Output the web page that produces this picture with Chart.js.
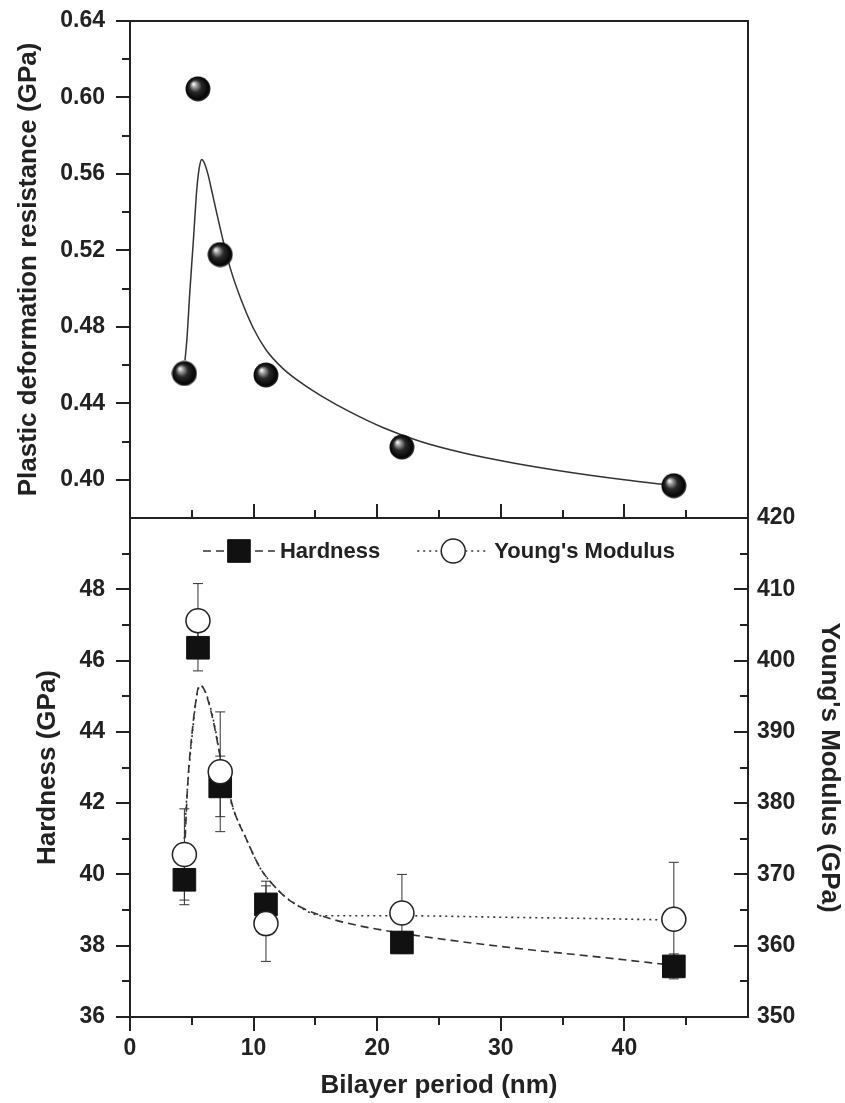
<!DOCTYPE html>
<html>
<head>
<meta charset="utf-8">
<title>Bilayer period vs. plastic deformation resistance, hardness and modulus</title>
<script src="https://cdn.jsdelivr.net/npm/chart.js@4.4.1/dist/chart.umd.min.js"></script>
<style>
  html, body { margin: 0; padding: 0; background: #fff; }
  #wrap { position: relative; width: 845px; height: 1103px; }
  #wrap canvas { position: absolute; left: 0; top: 0; }
</style>
</head>
<body>
<div id="wrap">
  <canvas id="topChart" width="845" height="1103"></canvas>
  <canvas id="bottomChart" width="845" height="1103"></canvas>
</div>
<script>
// ---- data ----
const periods = [4.4, 5.5, 7.3, 11, 22, 44];            // bilayer period, nm

// top panel: plastic deformation resistance (GPa)
const plasticRes = [0.4556, 0.6045, 0.5178, 0.4548, 0.4171, 0.3969];
const plasticFitX = [4.45, 4.6, 4.85, 5.13, 5.4, 5.6, 5.8, 6.0, 6.3, 6.6, 7.0, 7.5, 8.1, 9.0, 10.0, 11.0, 12.4, 14.0, 15.5, 17.8, 20.5, 23.5, 27, 31, 35, 40, 44];
const plasticFitY = [0.4626, 0.4731, 0.4992, 0.5254, 0.5516, 0.5630, 0.5676, 0.5660, 0.5600, 0.5516, 0.5400, 0.5260, 0.5110, 0.4940, 0.4790, 0.4680, 0.4580, 0.4500, 0.4438, 0.4355, 0.4272, 0.4200, 0.4140, 0.4088, 0.4045, 0.4000, 0.3970];

// bottom panel: hardness and Young's modulus (GPa)
const hardness = [39.85, 46.36, 42.47, 39.16, 38.09, 37.42];
const hardnessErr = [0.7, 0.65, 0.85, 0.65, 0.3, 0.35];
const modulus = [372.8, 405.6, 384.4, 363.1, 364.6, 363.7];
const modulusErr = [6.4, 5.2, 8.4, 5.3, 5.4, 8.0];

const hardnessFitX = [4.4, 4.5, 4.7, 5.0, 5.3, 5.6, 5.9, 6.3, 6.8, 7.3, 7.8, 8.4, 9.4, 10.5, 11.6, 13, 15.6, 18, 21.8, 26, 32, 38, 44];
const hardnessFitY = [40.3, 41.3, 42.7, 43.9, 44.8, 45.3, 45.25, 44.9, 44.2, 43.3, 42.6, 41.8, 41.0, 40.2, 39.7, 39.25, 38.83, 38.6, 38.36, 38.15, 37.9, 37.68, 37.45];
const modulusFitX = [4.4, 4.6, 5.0, 5.4, 5.7, 6.0, 6.5, 7.0, 7.3, 8.2, 9.4, 10.5, 11.6, 13, 15.6, 18, 22, 30, 38, 44];
const modulusFitY = [375, 381, 389, 395, 396.5, 396, 393.5, 389.5, 386.5, 380, 375, 371, 368.5, 366.3, 364.2, 364.2, 364.2, 364.0, 363.8, 363.6];

// tick labels
const xTickLabels = [0, 10, 20, 30, 40];
const plasticTicks = [0.40, 0.44, 0.48, 0.52, 0.56, 0.60, 0.64];
const hardnessTicks = [36, 38, 40, 42, 44, 46, 48];
const modulusTicks = [350, 360, 370, 380, 390, 400, 410, 420];

// ---- look ----
const INK = '#222';
const FONT = '"Liberation Sans", Arial, Helvetica, sans-serif';
const tickFont = { family: FONT, size: 23, weight: 'bold' };
const titleFont = { family: FONT, size: 26, weight: 'bold' };

Chart.defaults.font.family = FONT;
Chart.defaults.color = INK;

const range = (a, b, step) => {
    const out = [];
    for (let v = a; v <= b + 1e-9; v += step) out.push(+v.toFixed(4));
    return out;
};
const pts = (xs, ys) => xs.map((x, i) => ({ x, y: ys[i] }));
const fixTicks = values => scale => { scale.ticks = values.map(v => ({ value: v })); };
// fixed axis box size, and no extra room reserved for the end labels
const boxWidth = w => s => { s.width = w; s.paddingTop = 0; s.paddingBottom = 0; };

// shaded ball marker for the top panel
function makeSphere(d) {
    const c = document.createElement('canvas');
    c.width = d; c.height = d;
    const g = c.getContext('2d');
    const r = d / 2;
    const grad = g.createRadialGradient(r - r * 0.35, r - r * 0.38, 0.5, r, r, r);
    grad.addColorStop(0, '#f4f4f4');
    grad.addColorStop(0.18, '#9c9c9c');
    grad.addColorStop(0.45, '#2a2a2a');
    grad.addColorStop(0.85, '#050505');
    grad.addColorStop(1, '#3a3a3a');
    g.fillStyle = grad;
    g.beginPath();
    g.arc(r, r, r - 0.5, 0, Math.PI * 2);
    g.fill();
    return c;
}
const sphere = makeSphere(26);

// frame around the plot area
const framePlugin = {
    id: 'frame',
    afterDraw(chart) {
        const { ctx, chartArea: a } = chart;
        ctx.save();
        ctx.strokeStyle = INK;
        ctx.lineWidth = 2;
        ctx.strokeRect(a.left, a.top, a.width, a.height);
        ctx.restore();
    }
};

// Origin-style major/minor tick marks (in or out of the frame)
function tickMarks(specs) {
    return {
        id: 'tickMarks',
        afterDraw(chart) {
            const { ctx, chartArea: a } = chart;
            ctx.save();
            ctx.strokeStyle = INK;
            ctx.lineWidth = 2;
            specs.forEach(s => {
                const scale = chart.scales[s.scale];
                const draw = (v, len) => {
                    const p = Math.round(scale.getPixelForValue(v));
                    ctx.beginPath();
                    if (s.side === 'left' || s.side === 'right') {
                        const x = s.side === 'left' ? a.left : a.right;
                        ctx.moveTo(x, p);
                        ctx.lineTo(x + s.dir * len, p);
                    } else {
                        const y = s.side === 'top' ? a.top : a.bottom;
                        ctx.moveTo(p, y);
                        ctx.lineTo(p, y + s.dir * len);
                    }
                    ctx.stroke();
                };
                s.major.forEach(v => draw(v, 14));
                s.minor.forEach(v => draw(v, 8));
            });
            ctx.restore();
        }
    };
}

// ===================== top panel =====================
new Chart(document.getElementById('topChart'), {
    type: 'scatter',
    data: {
        datasets: [
            {
                label: 'Plastic deformation resistance',
                data: pts(periods, plasticRes),
                pointStyle: sphere,
                showLine: false
            },
            {
                label: 'fit',
                data: pts(plasticFitX, plasticFitY),
                showLine: true,
                pointRadius: 0,
                borderColor: '#333',
                borderWidth: 1.5,
                cubicInterpolationMode: 'monotone'
            }
        ]
    },
    options: {
        responsive: false,
        devicePixelRatio: 1,
        animation: false,
        layout: { padding: { top: 21, right: 97, bottom: 585, left: 0 } },
        plugins: { legend: { display: false }, tooltip: { enabled: false } },
        scales: {
            x: { type: 'linear', min: 0, max: 50, display: false },
            y: {
                type: 'linear',
                position: 'left',
                min: 0.38,
                max: 0.64,
                afterFit: boxWidth(130),
                afterBuildTicks: fixTicks(plasticTicks),
                grid: { display: false, drawTicks: false },
                border: { display: false },
                ticks: { autoSkip: false, padding: 25, font: tickFont, color: INK, callback: v => v.toFixed(2) },
                title: { display: true, text: 'Plastic deformation resistance (GPa)', font: titleFont, color: INK, padding: { top: 13, bottom: 0 } }
            }
        }
    },
    plugins: [framePlugin, tickMarks([
        { scale: 'y', side: 'left', dir: -1, major: plasticTicks, minor: range(0.42, 0.62, 0.04) },
        { scale: 'x', side: 'bottom', dir: -1, major: [10, 20, 30, 40], minor: range(5, 45, 10) }
    ])]
});

// ===================== bottom panel =====================
const errorBars = {
    id: 'errorBars',
    beforeDatasetsDraw(chart) {
        const { ctx } = chart;
        const x = chart.scales.x;
        ctx.save();
        ctx.strokeStyle = '#333';
        ctx.lineWidth = 1;
        const bars = (vals, errs, yScale) => vals.forEach((v, i) => {
            const px = x.getPixelForValue(periods[i]);
            const lo = yScale.getPixelForValue(v - errs[i]);
            const hi = yScale.getPixelForValue(v + errs[i]);
            ctx.beginPath();
            ctx.moveTo(px, lo); ctx.lineTo(px, hi);
            ctx.moveTo(px - 5, lo); ctx.lineTo(px + 5, lo);
            ctx.moveTo(px - 5, hi); ctx.lineTo(px + 5, hi);
            ctx.stroke();
        });
        bars(hardness, hardnessErr, chart.scales.y);
        bars(modulus, modulusErr, chart.scales.y2);
        ctx.restore();
    }
};

// legend inside the plot: line sample with marker, then label
const innerLegend = {
    id: 'innerLegend',
    afterDraw(chart) {
        const { ctx, chartArea: a } = chart;
        const items = [[1, 2], [0, 3]].map(([m, l]) => ({
            marker: chart.data.datasets[m],
            line: chart.data.datasets[l]
        }));
        const sample = 72, gap = 5, between = 37;
        ctx.save();
        ctx.font = 'bold 22px ' + FONT;
        const widths = items.map(it => sample + gap + ctx.measureText(it.marker.label).width);
        const total = widths.reduce((s, w) => s + w, 0) + between;
        let x = (a.left + a.right) / 2 - total / 2;
        const y = a.top + 33;
        items.forEach((it, i) => {
            ctx.strokeStyle = it.line.borderColor;
            ctx.lineWidth = it.line.borderWidth;
            ctx.setLineDash(it.line.borderDash);
            ctx.beginPath();
            ctx.moveTo(x, y); ctx.lineTo(x + sample, y);
            ctx.stroke();
            ctx.setLineDash([]);
            ctx.fillStyle = it.marker.backgroundColor;
            ctx.strokeStyle = it.marker.borderColor;
            ctx.lineWidth = it.marker.borderWidth;
            Chart.helpers.drawPoint(ctx, {
                pointStyle: it.marker.pointStyle,
                radius: it.marker.pointRadius,
                borderWidth: it.marker.borderWidth,
                rotation: 0
            }, x + sample / 2, y);
            ctx.fillStyle = INK;
            ctx.textBaseline = 'middle';
            ctx.textAlign = 'left';
            ctx.fillText(it.marker.label, x + sample + gap, y + 1);
            x += widths[i] + between;
        });
        ctx.restore();
    }
};

new Chart(document.getElementById('bottomChart'), {
    type: 'scatter',
    data: {
        datasets: [
            {
                label: "Young's Modulus",
                data: pts(periods, modulus),
                yAxisID: 'y2',
                pointStyle: 'circle',
                pointRadius: 12,
                backgroundColor: '#fff',
                borderColor: INK,
                borderWidth: 1.5
            },
            {
                label: 'Hardness',
                data: pts(periods, hardness),
                yAxisID: 'y',
                pointStyle: 'rect',
                pointRadius: 16,
                backgroundColor: '#111',
                borderColor: '#111',
                borderWidth: 1
            },
            {
                label: 'Hardness fit',
                data: pts(hardnessFitX, hardnessFitY),
                yAxisID: 'y',
                showLine: true,
                pointRadius: 0,
                borderColor: '#333',
                borderWidth: 1.6,
                borderDash: [8, 5],
                cubicInterpolationMode: 'monotone'
            },
            {
                label: "Young's Modulus fit",
                data: pts(modulusFitX, modulusFitY),
                yAxisID: 'y2',
                showLine: true,
                pointRadius: 0,
                borderColor: '#333',
                borderWidth: 1.6,
                borderDash: [2, 4],
                cubicInterpolationMode: 'monotone'
            }
        ]
    },
    options: {
        responsive: false,
        devicePixelRatio: 1,
        animation: false,
        layout: { padding: { top: 518, right: 0, bottom: 0, left: 0 } },
        plugins: { legend: { display: false }, tooltip: { enabled: false } },
        scales: {
            x: {
                type: 'linear',
                min: 0,
                max: 50,
                afterFit: s => { s.height = 86; },
                afterBuildTicks: fixTicks(xTickLabels),
                grid: { display: false, drawTicks: false },
                border: { display: false },
                ticks: { autoSkip: false, padding: 18, font: tickFont, color: INK, maxRotation: 0 },
                title: { display: true, text: 'Bilayer period (nm)', font: titleFont, color: INK, padding: { top: 0, bottom: 2 } }
            },
            y: {
                type: 'linear',
                position: 'left',
                min: 36,
                max: 50,
                afterFit: boxWidth(130),
                afterBuildTicks: fixTicks(hardnessTicks),
                grid: { display: false, drawTicks: false },
                border: { display: false },
                ticks: { autoSkip: false, padding: 25, font: tickFont, color: INK },
                title: { display: true, text: 'Hardness (GPa)', font: titleFont, color: INK, padding: { top: 32, bottom: 0 } }
            },
            y2: {
                type: 'linear',
                position: 'right',
                min: 350,
                max: 420,
                afterFit: boxWidth(97),
                afterBuildTicks: fixTicks(modulusTicks),
                grid: { display: false, drawTicks: false },
                border: { display: false },
                ticks: { autoSkip: false, padding: 9, font: tickFont, color: INK },
                title: { display: true, text: "Young's Modulus (GPa)", font: titleFont, color: INK, padding: { top: 0, bottom: 0 } }
            }
        }
    },
    plugins: [framePlugin, errorBars, innerLegend, tickMarks([
        { scale: 'y', side: 'left', dir: -1, major: hardnessTicks, minor: range(37, 49, 2) },
        { scale: 'y2', side: 'right', dir: -1, major: modulusTicks, minor: range(355, 415, 10) },
        { scale: 'x', side: 'bottom', dir: 1, major: [0, 10, 20, 30, 40], minor: range(5, 45, 10) }
    ])]
});
</script>
</body>
</html>
